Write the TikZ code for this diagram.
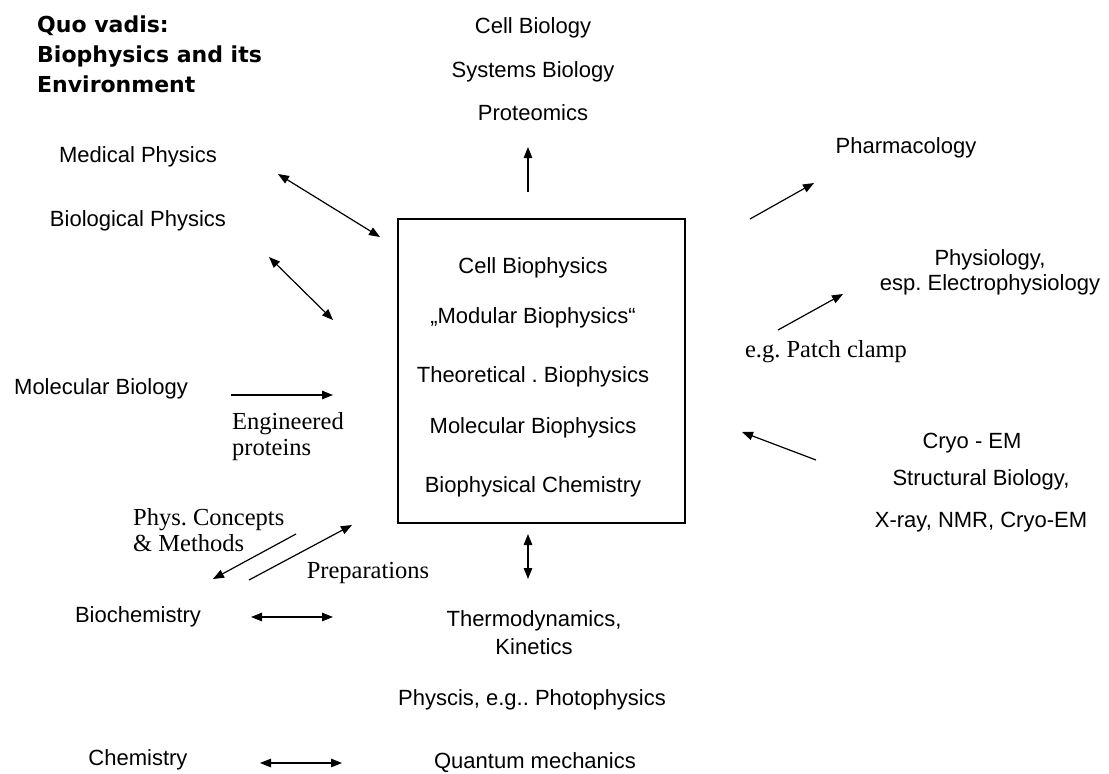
\documentclass[tikz,border=0pt]{standalone}
\usepackage{fontspec}
\setmainfont{Liberation Sans}
\newfontfamily\serifA{Liberation Serif}
\newfontfamily\titleA{DejaVu Sans}
\usetikzlibrary{arrows.meta}
\frenchspacing
\begin{document}
\begin{tikzpicture}[x=1pt,y=-1pt,
  lbl/.style={font=\fontsize{22}{25}\selectfont, inner sep=0pt, align=center},
  slbl/.style={font=\serifA\fontsize{24.5}{26.5}\selectfont, inner sep=0pt, align=left},
  ttl/.style={font=\titleA\bfseries\fontsize{22}{30}\selectfont, inner sep=0pt, align=left},
  arr/.style={line width=1.2pt, -{Triangle[length=11pt,width=8.5pt]}},
  darr/.style={line width=1.2pt, {Triangle[length=11pt,width=8.5pt]}-{Triangle[length=11pt,width=8.5pt]}},
  boxst/.style={draw, line width=1.2pt, minimum width=287pt, minimum height=304pt, inner sep=0pt}
]
\path[use as bounding box, fill=white] (0,0) rectangle (1109,774);

% title
\node[ttl, anchor=west] (title) at (37,54) {Quo vadis:\\Biophysics and its\\Environment};

% central box
\node[boxst] (box) at (541.5,371) {};
\node[lbl] (cellbp) at (533,268) {Cell Biophysics};
\node[lbl] (modbp) at (533,318) {„Modular Biophysics“};
\node[lbl] (theobp) at (533,377) {Theoretical . Biophysics};
\node[lbl] (molbp) at (533,428) {Molecular Biophysics};
\node[lbl] (bpchem) at (533,487) {Biophysical Chemistry};

% top
\node[lbl] (cellbio) at (533,28) {Cell Biology};
\node[lbl] (sysbio) at (533,72) {Systems Biology};
\node[lbl] (proteo) at (533,113) {Proteomics};
\coordinate (upA) at (528,192);
\coordinate (upB) at (528,147);
\draw[arr] (upA) -- (upB);

% right
\node[lbl] (pharma) at (906,148) {Pharmacology};
\coordinate (phA) at (750,219);
\coordinate (phB) at (814,183);
\draw[arr] (phA) -- (phB);

\node[lbl] (physio) at (990,272.5) {Physiology,\\esp. Electrophysiology};
\coordinate (psA) at (778,330);
\coordinate (psB) at (843,294);
\draw[arr] (psA) -- (psB);
\node[slbl] (patch) at (826,352) {e.g. Patch clamp};

\node[lbl] (cryo) at (972,443) {Cryo - EM};
\node[lbl] (struct) at (981,480) {Structural Biology,};
\node[lbl] (xray) at (981,522) {X-ray, NMR, Cryo-EM};
\coordinate (crA) at (816,460);
\coordinate (crB) at (742,432);
\draw[arr] (crA) -- (crB);

% left
\node[lbl] (medphys) at (138,157) {Medical Physics};
\coordinate (mpA) at (278,174);
\coordinate (mpB) at (380,237);
\draw[darr] (mpA) -- (mpB);

\node[lbl] (biophys) at (138,221) {Biological Physics};
\coordinate (bpA) at (269,257);
\coordinate (bpB) at (333,320);
\draw[darr] (bpA) -- (bpB);

\node[lbl] (molbio) at (101,389) {Molecular Biology};
\coordinate (mbA) at (231,395);
\coordinate (mbB) at (333,395);
\draw[arr] (mbA) -- (mbB);
\node[slbl, anchor=west] (eng) at (232,436.5) {Engineered\\proteins};

\node[slbl, anchor=west] (concepts) at (133,530) {Phys. Concepts\\\& Methods};
\coordinate (pcA) at (296,534);
\coordinate (pcB) at (213,579);
\draw[arr] (pcA) -- (pcB);
\coordinate (prA) at (249,580);
\coordinate (prB) at (352,525);
\draw[arr] (prA) -- (prB);
\node[slbl] (prep) at (368,573) {Preparations};

\node[lbl] (biochem) at (138,617) {Biochemistry};
\coordinate (bcA) at (251,617);
\coordinate (bcB) at (333,617);
\draw[darr] (bcA) -- (bcB);

\node[lbl] (chem) at (138,760) {Chemistry};
\coordinate (chA) at (260,763);
\coordinate (chB) at (342,763);
\draw[darr] (chA) -- (chB);

% bottom
\coordinate (vtA) at (528,534);
\coordinate (vtB) at (528,579);
\draw[darr] (vtA) -- (vtB);
\node[lbl, font=\fontsize{22}{28}\selectfont] (thermo) at (534,632.5) {Thermodynamics,\\Kinetics};
\node[lbl] (photo) at (532,700) {Physcis, e.g.. Photophysics};
\node[lbl] (quant) at (535,763) {Quantum mechanics};
\end{tikzpicture}
\end{document}
